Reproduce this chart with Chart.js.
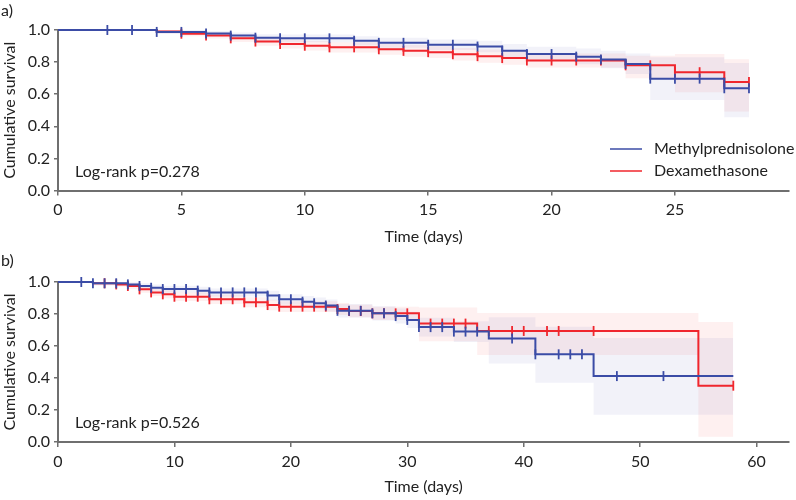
<!DOCTYPE html>
<html>
<head>
<meta charset="utf-8">
<script src="https://cdn.jsdelivr.net/npm/chart.js@4"></script>
<style>
  html, body { margin: 0; padding: 0; background: #fff; }
  canvas { display: block; }
</style>
</head>
<body>
<canvas id="chartA" width="796" height="250"></canvas>
<canvas id="chartB" width="796" height="250"></canvas>
<script>
// ---- panel a) ----
const aMpTimes = [0, 4, 6, 7, 8, 9, 12, 13, 15, 17, 18, 19, 21, 22, 23, 24, 27, 28];
const aMpSurv  = [1.0, 0.988, 0.978, 0.965, 0.952, 0.948, 0.933, 0.920, 0.908, 0.897, 0.871, 0.850, 0.834, 0.816, 0.788, 0.697, 0.637, 0.637];
const aMpLow   = [1.0, 0.976, 0.962, 0.946, 0.930, 0.924, 0.905, 0.890, 0.876, 0.862, 0.832, 0.806, 0.786, 0.762, 0.726, 0.564, 0.457, 0.457];
const aMpHigh  = [1.0, 1.0, 0.994, 0.984, 0.974, 0.972, 0.961, 0.951, 0.941, 0.933, 0.912, 0.896, 0.884, 0.871, 0.853, 0.830, 0.795, 0.795];
const aMpCensor = [2, 3, 4, 5, 6, 7, 8, 9, 10, 11, 12, 13, 14, 15, 16, 17, 18, 19, 20, 21, 22, 23, 24, 25, 26, 27, 28];

const aDxTimes = [0, 4, 5, 6, 7, 8, 9, 10, 11, 13, 14, 15, 16, 17, 18, 19, 23, 25, 27, 28];
const aDxSurv  = [1.0, 0.990, 0.977, 0.966, 0.948, 0.928, 0.913, 0.902, 0.892, 0.880, 0.870, 0.862, 0.849, 0.837, 0.825, 0.810, 0.780, 0.737, 0.676, 0.676];
const aDxLow   = [1.0, 0.978, 0.961, 0.947, 0.925, 0.902, 0.885, 0.872, 0.860, 0.846, 0.834, 0.825, 0.810, 0.796, 0.783, 0.766, 0.700, 0.612, 0.492, 0.492];
const aDxHigh  = [1.0, 1.0, 0.993, 0.985, 0.970, 0.954, 0.941, 0.932, 0.924, 0.914, 0.906, 0.899, 0.888, 0.878, 0.867, 0.854, 0.840, 0.850, 0.818, 0.818];
const aDxCensor = [5, 6, 7, 8, 9, 10, 11, 12, 13, 14, 15, 16, 17, 18, 19, 20, 21, 22, 23, 24, 25, 26, 27, 28];

// ---- panel b) ----
const bMpTimes = [0, 3, 6, 7, 8, 9, 12, 13, 18, 19, 21, 22, 23, 24, 27, 29, 30, 31, 34, 37, 41, 46, 58];
const bMpSurv  = [1.0, 0.992, 0.985, 0.975, 0.964, 0.956, 0.946, 0.935, 0.915, 0.892, 0.877, 0.867, 0.853, 0.820, 0.804, 0.787, 0.763, 0.718, 0.690, 0.647, 0.548, 0.412, 0.412];
const bMpLow   = [1.0, 0.980, 0.970, 0.957, 0.945, 0.935, 0.922, 0.910, 0.885, 0.860, 0.843, 0.831, 0.815, 0.778, 0.760, 0.740, 0.712, 0.660, 0.625, 0.490, 0.370, 0.170, 0.170];
const bMpHigh  = [1.0, 1.0, 0.998, 0.992, 0.984, 0.977, 0.970, 0.960, 0.945, 0.924, 0.912, 0.903, 0.891, 0.862, 0.848, 0.834, 0.814, 0.776, 0.755, 0.780, 0.720, 0.650, 0.650];
const bMpCensor = [2, 3, 4, 5, 6, 7, 8, 9, 10, 11, 12, 13, 14, 15, 16, 17, 18, 19, 20, 21, 22, 23, 24, 25, 26, 27, 28, 29, 30, 31, 32, 33, 34, 35, 36, 39, 41, 43, 44, 45, 48, 52];

const bDxTimes = [0, 3, 5, 6, 7, 8, 9, 10, 13, 16, 18, 19, 24, 25, 27, 31, 36, 55, 58];
const bDxSurv  = [1.0, 0.992, 0.985, 0.975, 0.954, 0.935, 0.923, 0.908, 0.892, 0.873, 0.856, 0.846, 0.831, 0.819, 0.804, 0.740, 0.694, 0.352, 0.352];
const bDxLow   = [1.0, 0.980, 0.970, 0.958, 0.933, 0.912, 0.898, 0.882, 0.863, 0.842, 0.823, 0.812, 0.794, 0.780, 0.762, 0.630, 0.544, 0.033, 0.033];
const bDxHigh  = [1.0, 1.0, 0.998, 0.992, 0.975, 0.958, 0.948, 0.934, 0.921, 0.904, 0.889, 0.880, 0.868, 0.858, 0.846, 0.840, 0.806, 0.750, 0.750];
const bDxCensor = [4, 5, 6, 7, 8, 9, 10, 11, 12, 13, 14, 15, 16, 17, 18, 19, 20, 21, 22, 23, 24, 25, 26, 27, 28, 29, 30, 32, 33, 34, 35, 37, 39, 40, 42, 43, 46, 58];

const groupNames = ["Methylprednisolone", "Dexamethasone"];

const FONT = "Lato, 'Noto Sans', sans-serif";
const TEXT = "#222";
const AXIS = "#6f6f6f";
const BLUE = "#3b4ca6";
const RED = "#f0262d";
const BLUE_CI = "rgba(70, 70, 175, 0.07)";
const RED_CI = "rgba(245, 60, 60, 0.08)";

// survival value at time t (for placing censor ticks on the curve)
function survAt(times, surv, t) {
  let s = surv[0];
  for (let i = 0; i < times.length; i++) {
    if (times[i] <= t) s = surv[i];
  }
  return s;
}

function pts(times, vals) {
  return times.map((t, i) => ({ x: t, y: vals[i] }));
}

function groupSets(times, surv, low, high, censor, color, ciColor) {
  return {
    marks: {
      data: censor.map((t) => ({ x: t, y: survAt(times, surv, t) })),
      showLine: false,
      clip: false,
      pointStyle: "line",
      rotation: 90,
      pointRadius: 5,
      borderColor: color,
      pointBorderWidth: 1.8,
      backgroundColor: color,
    },
    line: {
      data: pts(times, surv),
      stepped: true,
      clip: false,
      borderColor: color,
      borderWidth: 2,
      pointRadius: 0,
      fill: false,
    },
    upper: {
      data: pts(times, high),
      stepped: true,
      borderWidth: 0,
      pointRadius: 0,
      backgroundColor: ciColor,
      fill: "+1",
    },
    lower: {
      data: pts(times, low),
      stepped: true,
      borderWidth: 0,
      pointRadius: 0,
      fill: false,
    },
  };
}

const notes = {
  id: "notes",
  afterDraw(chart, args, opts) {
    const ctx = chart.ctx;
    const area = chart.chartArea;
    ctx.save();
    ctx.font = "16px " + FONT;
    ctx.fillStyle = TEXT;
    ctx.textBaseline = "middle";
    ctx.textAlign = "left";
    ctx.fillText(opts.panel, 1, opts.panelY);
    ctx.fillText(opts.logrank, 75, area.bottom - 19);
    if (opts.legend) {
      const rows = [
        { label: groupNames[0], color: BLUE, y: 149 },
        { label: groupNames[1], color: RED, y: 171 },
      ];
      rows.forEach((r) => {
        ctx.strokeStyle = r.color;
        ctx.lineWidth = 1.5;
        ctx.beginPath();
        ctx.moveTo(610, r.y);
        ctx.lineTo(642, r.y);
        ctx.stroke();
        ctx.fillText(r.label, 654, r.y);
      });
    }
    ctx.restore();
  },
};

function makeChart(id, p) {
  const mp = groupSets(p.mp[0], p.mp[1], p.mp[2], p.mp[3], p.mp[4], BLUE, BLUE_CI);
  const dx = groupSets(p.dx[0], p.dx[1], p.dx[2], p.dx[3], p.dx[4], RED, RED_CI);
  const font = { family: FONT, size: 16 };
  return new Chart(document.getElementById(id), {
    type: "line",
    data: {
      datasets: [mp.marks, mp.line, dx.marks, dx.line, mp.upper, mp.lower, dx.upper, dx.lower],
    },
    options: {
      responsive: false,
      animation: false,
      layout: { padding: { top: p.top, right: 2, left: 0, bottom: 0 } },
      plugins: {
        legend: { display: false },
        tooltip: { enabled: false },
        notes: { panel: p.panel, panelY: 11, logrank: p.logrank, legend: p.legend },
      },
      scales: {
        x: {
          type: "linear",
          min: 0,
          max: p.xMax,
          ticks: { stepSize: p.xStep, includeBounds: false, font: font, color: TEXT, padding: 5, maxRotation: 0 },
          grid: { drawOnChartArea: false, tickLength: 5, color: AXIS, lineWidth: 1.5 },
          border: { color: AXIS, width: 2 },
          title: { display: true, text: "Time (days)", font: font, color: TEXT, padding: { top: 0, bottom: 4 } },
          afterFit: (s) => { s.height = p.xHeight; },
        },
        y: {
          min: 0,
          max: 1,
          ticks: { stepSize: 0.2, font: font, color: TEXT, padding: 4, callback: (v) => v.toFixed(1) },
          grid: { drawOnChartArea: false, tickLength: 4, color: AXIS, lineWidth: 1.5 },
          border: { color: AXIS, width: 2 },
          title: { display: true, text: "Cumulative survival", font: font, color: TEXT, padding: { top: 0, bottom: 0 } },
          afterFit: (s) => { s.width = 58; },
        },
      },
    },
    plugins: [notes],
  });
}

makeChart("chartA", {
  panel: "a)",
  logrank: "Log-rank p=0.278",
  legend: true,
  top: 30,
  xHeight: 59.5,
  xMax: 29.63,
  xStep: 5,
  mp: [aMpTimes, aMpSurv, aMpLow, aMpHigh, aMpCensor],
  dx: [aDxTimes, aDxSurv, aDxLow, aDxHigh, aDxCensor],
});

makeChart("chartB", {
  panel: "b)",
  logrank: "Log-rank p=0.526",
  legend: false,
  top: 32,
  xHeight: 58,
  xMax: 62.8,
  xStep: 10,
  mp: [bMpTimes, bMpSurv, bMpLow, bMpHigh, bMpCensor],
  dx: [bDxTimes, bDxSurv, bDxLow, bDxHigh, bDxCensor],
});
</script>
</body>
</html>
